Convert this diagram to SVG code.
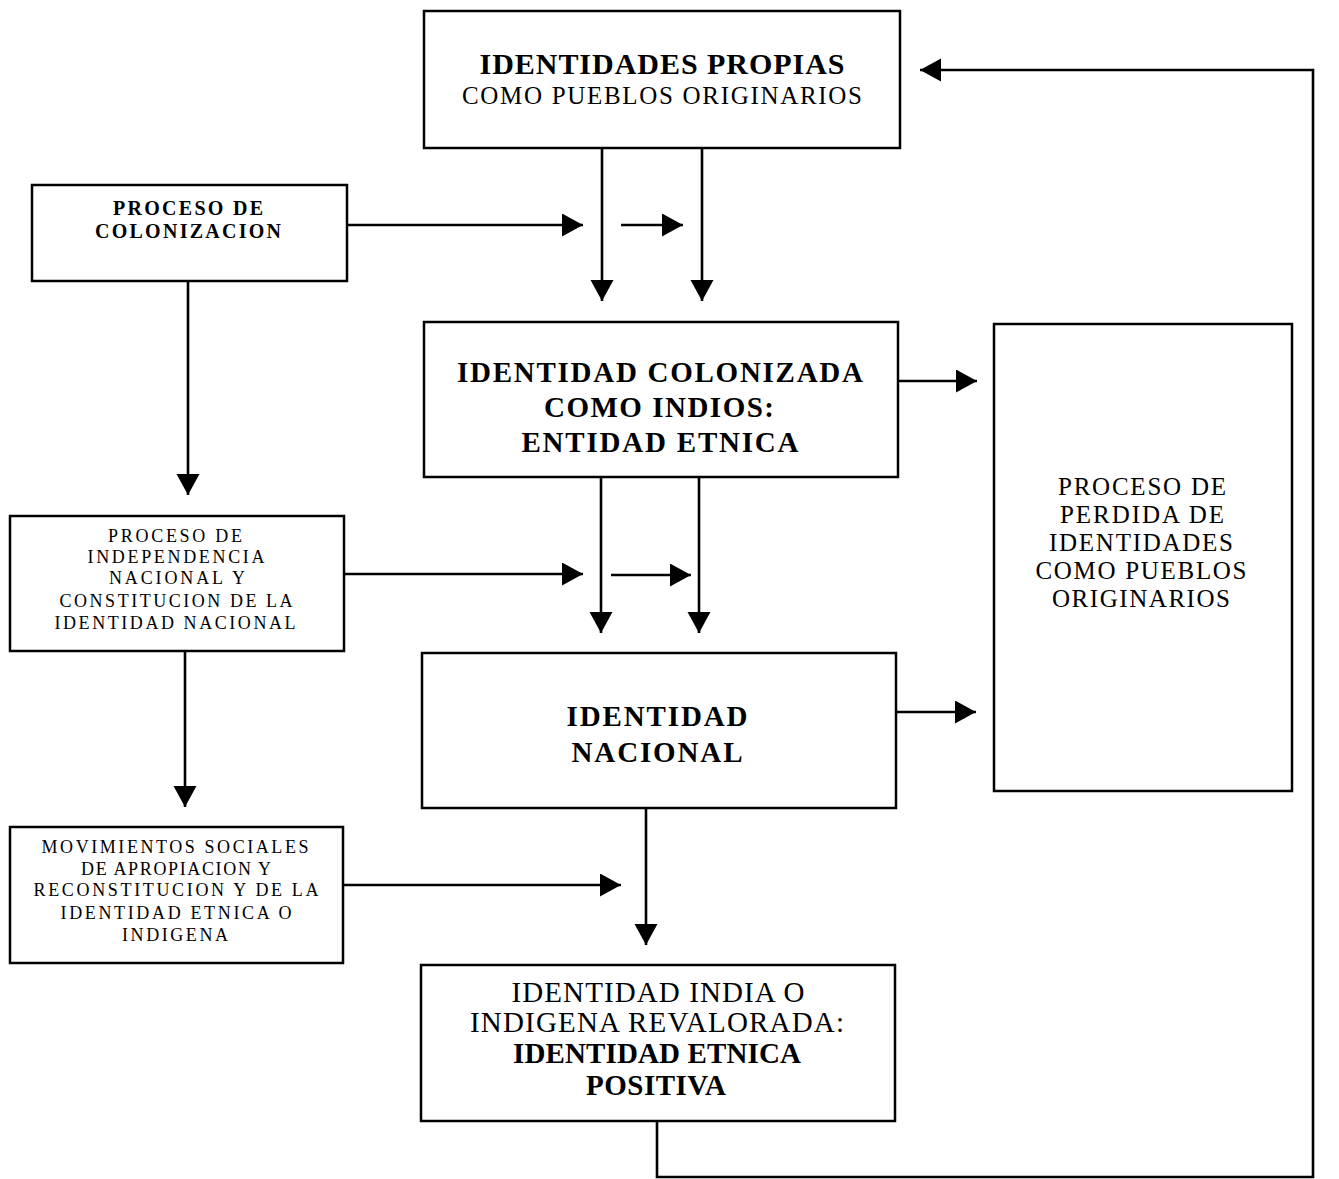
<svg xmlns="http://www.w3.org/2000/svg" width="1339" height="1179" viewBox="0 0 1339 1179">
<style>
text{font-family:"Liberation Serif","Times New Roman",serif;fill:#000;text-anchor:middle}
.box{fill:#fff;stroke:#000;stroke-width:2.5}
.c{fill:none;stroke:#000;stroke-width:2.6}
.b{font-weight:bold}
</style>
<defs>
<marker id="ah" markerUnits="userSpaceOnUse" markerWidth="22" markerHeight="24" refX="21" refY="11.5" orient="auto">
<path d="M0,0 L21,11.5 L0,23 z" fill="#000"/>
</marker>
</defs>
<rect width="1339" height="1179" fill="#fff"/>
<g id="connectors">
<line class="c" x1="602" y1="148" x2="602" y2="301" marker-end="url(#ah)"/>
<line class="c" x1="702" y1="148" x2="702" y2="301" marker-end="url(#ah)"/>
<line class="c" x1="347" y1="225" x2="583" y2="225" marker-end="url(#ah)"/>
<line class="c" x1="621" y1="225" x2="683" y2="225" marker-end="url(#ah)"/>
<line class="c" x1="188" y1="281" x2="188" y2="495" marker-end="url(#ah)"/>
<line class="c" x1="898" y1="381" x2="977" y2="381" marker-end="url(#ah)"/>
<line class="c" x1="601" y1="477" x2="601" y2="633" marker-end="url(#ah)"/>
<line class="c" x1="699" y1="477" x2="699" y2="633" marker-end="url(#ah)"/>
<line class="c" x1="344" y1="574" x2="583" y2="574" marker-end="url(#ah)"/>
<line class="c" x1="611" y1="575" x2="691" y2="575" marker-end="url(#ah)"/>
<line class="c" x1="185" y1="651" x2="185" y2="807" marker-end="url(#ah)"/>
<line class="c" x1="896" y1="712" x2="976" y2="712" marker-end="url(#ah)"/>
<line class="c" x1="646" y1="808" x2="646" y2="945" marker-end="url(#ah)"/>
<line class="c" x1="343" y1="885" x2="621" y2="885" marker-end="url(#ah)"/>
<polyline class="c" points="657,1121 657,1177 1313,1177 1313,70 920,70" marker-end="url(#ah)"/>
</g>
<g id="identidades-propias">
<rect class="box" x="424" y="11" width="476" height="137"/>
<text class="b" x="662" y="74" font-size="30" textLength="365" lengthAdjust="spacing">IDENTIDADES PROPIAS</text>
<text x="662" y="104" font-size="25" textLength="400" lengthAdjust="spacing">COMO PUEBLOS ORIGINARIOS</text>
</g>
<g id="proceso-colonizacion">
<rect class="box" x="32" y="185" width="315" height="96"/>
<text class="b" x="188" y="215" font-size="20" textLength="150" lengthAdjust="spacing">PROCESO DE</text>
<text class="b" x="188" y="238" font-size="20" textLength="186" lengthAdjust="spacing">COLONIZACION</text>
</g>
<g id="identidad-colonizada">
<rect class="box" x="424" y="322" width="474" height="155"/>
<text class="b" x="660" y="382" font-size="29" textLength="406" lengthAdjust="spacing">IDENTIDAD COLONIZADA</text>
<text class="b" x="659" y="417" font-size="29" textLength="230" lengthAdjust="spacing">COMO INDIOS:</text>
<text class="b" x="660" y="452" font-size="29" textLength="277" lengthAdjust="spacing">ENTIDAD ETNICA</text>
</g>
<g id="proceso-perdida">
<rect class="box" x="994" y="324" width="298" height="467"/>
<text x="1142" y="495" font-size="25" textLength="168" lengthAdjust="spacing">PROCESO DE</text>
<text x="1142" y="523" font-size="25" textLength="164" lengthAdjust="spacing">PERDIDA DE</text>
<text x="1141" y="551" font-size="25" textLength="184" lengthAdjust="spacing">IDENTIDADES</text>
<text x="1141" y="579" font-size="25" textLength="211" lengthAdjust="spacing">COMO PUEBLOS</text>
<text x="1141" y="607" font-size="25" textLength="178" lengthAdjust="spacing">ORIGINARIOS</text>
</g>
<g id="proceso-independencia">
<rect class="box" x="10" y="516" width="334" height="135"/>
<text x="175" y="542" font-size="18" textLength="134" lengthAdjust="spacing">PROCESO DE</text>
<text x="176" y="563" font-size="18" textLength="177" lengthAdjust="spacing">INDEPENDENCIA</text>
<text x="177" y="584" font-size="18" textLength="136" lengthAdjust="spacing">NACIONAL Y</text>
<text x="176" y="607" font-size="18" textLength="233" lengthAdjust="spacing">CONSTITUCION DE LA</text>
<text x="175" y="629" font-size="18" textLength="241" lengthAdjust="spacing">IDENTIDAD NACIONAL</text>
</g>
<g id="identidad-nacional">
<rect class="box" x="422" y="653" width="474" height="155"/>
<text class="b" x="657" y="726" font-size="29" textLength="181" lengthAdjust="spacing">IDENTIDAD</text>
<text class="b" x="657" y="762" font-size="29" textLength="171" lengthAdjust="spacing">NACIONAL</text>
</g>
<g id="movimientos-sociales">
<rect class="box" x="10" y="827" width="333" height="136"/>
<text x="175" y="853" font-size="18" textLength="267" lengthAdjust="spacing">MOVIMIENTOS SOCIALES</text>
<text x="176" y="875" font-size="18" textLength="190" lengthAdjust="spacing">DE APROPIACION Y</text>
<text x="176" y="896" font-size="18" textLength="285" lengthAdjust="spacing">RECONSTITUCION Y DE LA</text>
<text x="176" y="919" font-size="18" textLength="231" lengthAdjust="spacing">IDENTIDAD ETNICA O</text>
<text x="175" y="941" font-size="18" textLength="106" lengthAdjust="spacing">INDIGENA</text>
</g>
<g id="identidad-india">
<rect class="box" x="421" y="965" width="474" height="156"/>
<text x="658" y="1002" font-size="29" textLength="293" lengthAdjust="spacing">IDENTIDAD INDIA O</text>
<text x="657" y="1032" font-size="29" textLength="374" lengthAdjust="spacing">INDIGENA REVALORADA:</text>
<text class="b" x="657" y="1063" font-size="29" textLength="288" lengthAdjust="spacing">IDENTIDAD ETNICA</text>
<text class="b" x="656" y="1095" font-size="29" textLength="140" lengthAdjust="spacing">POSITIVA</text>
</g>
</svg>
